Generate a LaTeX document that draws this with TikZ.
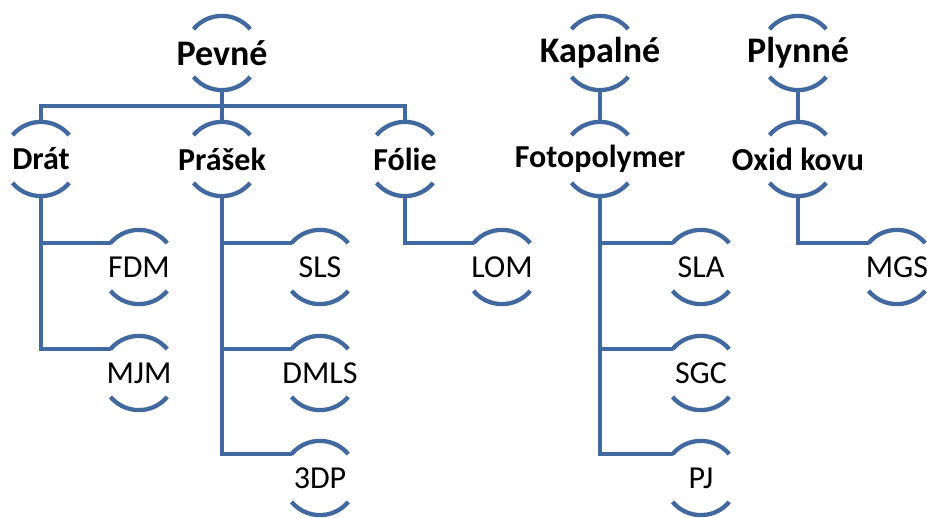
\documentclass[tikz,border=0pt]{standalone}
\usepackage{fontspec}
\setmainfont{Carlito}
\definecolor{lineblue}{RGB}{65,105,160}
\newcommand{\zw}[1]{\makebox[0pt]{#1}}
\tikzset{
  cnode/.style={circle, minimum size=74pt, inner sep=0pt, text=black},
  toplab/.style={cnode, font=\fontsize{36}{40}\selectfont\bfseries},
  midlab/.style={cnode, font=\fontsize{32}{36}\selectfont\bfseries},
  leaflab/.style={cnode, font=\fontsize{32}{36}\selectfont},
  conn/.style={draw=lineblue, line width=4.3pt, line join=miter},
  arcs/.style={draw=lineblue, line width=4.3pt, line cap=butt}
}
\begin{document}
\begin{tikzpicture}[x=1pt,y=-1pt]
\useasboundingbox (0,0) rectangle (927,518);
% top level
\node[toplab] (pevne) at (222,53) {\zw{Pevné}};
\node[toplab] (kapalne) at (600,53) {\zw{Kapalné}};
\node[toplab] (plynne) at (798,53) {\zw{Plynné}};
% second level
\node[midlab] (drat) at (41,159) {\zw{Drát}};
\node[midlab] (prasek) at (222,159) {\zw{Prášek}};
\node[midlab] (folie) at (405,159) {\zw{Fólie}};
\node[midlab] (foto) at (600,159) {\zw{Fotopolymer}};
\node[midlab] (oxid) at (798,159) {\zw{Oxid kovu}};
% leaves
\node[leaflab] (fdm) at (139,267) {\zw{FDM}};
\node[leaflab] (mjm) at (139,373) {\zw{MJM}};
\node[leaflab] (sls) at (320,267) {\zw{SLS}};
\node[leaflab] (dmls) at (320,373) {\zw{DMLS}};
\node[leaflab] (tdp) at (320,478) {\zw{3DP}};
\node[leaflab] (lom) at (502,267) {\zw{LOM}};
\node[leaflab] (sla) at (701,267) {\zw{SLA}};
\node[leaflab] (sgc) at (701,373) {\zw{SGC}};
\node[leaflab] (pj) at (701,478) {\zw{PJ}};
\node[leaflab] (mgs) at (897,267) {\zw{MGS}};
% arcs
\foreach \n in {pevne,kapalne,plynne,drat,prasek,folie,foto,oxid,fdm,mjm,sls,dmls,tdp,lom,sla,sgc,pj,mgs}{
  \draw[arcs] (\n.140) arc[start angle=140, end angle=40, radius=37pt];
  \draw[arcs] (\n.220) arc[start angle=220, end angle=320, radius=37pt];
}
% connectors
\coordinate (bus) at (222,106);
\draw[conn] (pevne.south) -- (prasek.north);
\draw[conn] (drat.north) |- (bus) -| (folie.north);
\draw[conn] (kapalne.south) -- (foto.north);
\draw[conn] (plynne.south) -- (oxid.north);
\draw[conn] (drat.south) |- (fdm.140);
\draw[conn] (drat.south) |- (mjm.140);
\draw[conn] (prasek.south) |- (sls.140);
\draw[conn] (prasek.south) |- (dmls.140);
\draw[conn] (prasek.south) |- (tdp.140);
\draw[conn] (folie.south) |- (lom.140);
\draw[conn] (foto.south) |- (sla.140);
\draw[conn] (foto.south) |- (sgc.140);
\draw[conn] (foto.south) |- (pj.140);
\draw[conn] (oxid.south) |- (mgs.140);
\end{tikzpicture}
\end{document}
